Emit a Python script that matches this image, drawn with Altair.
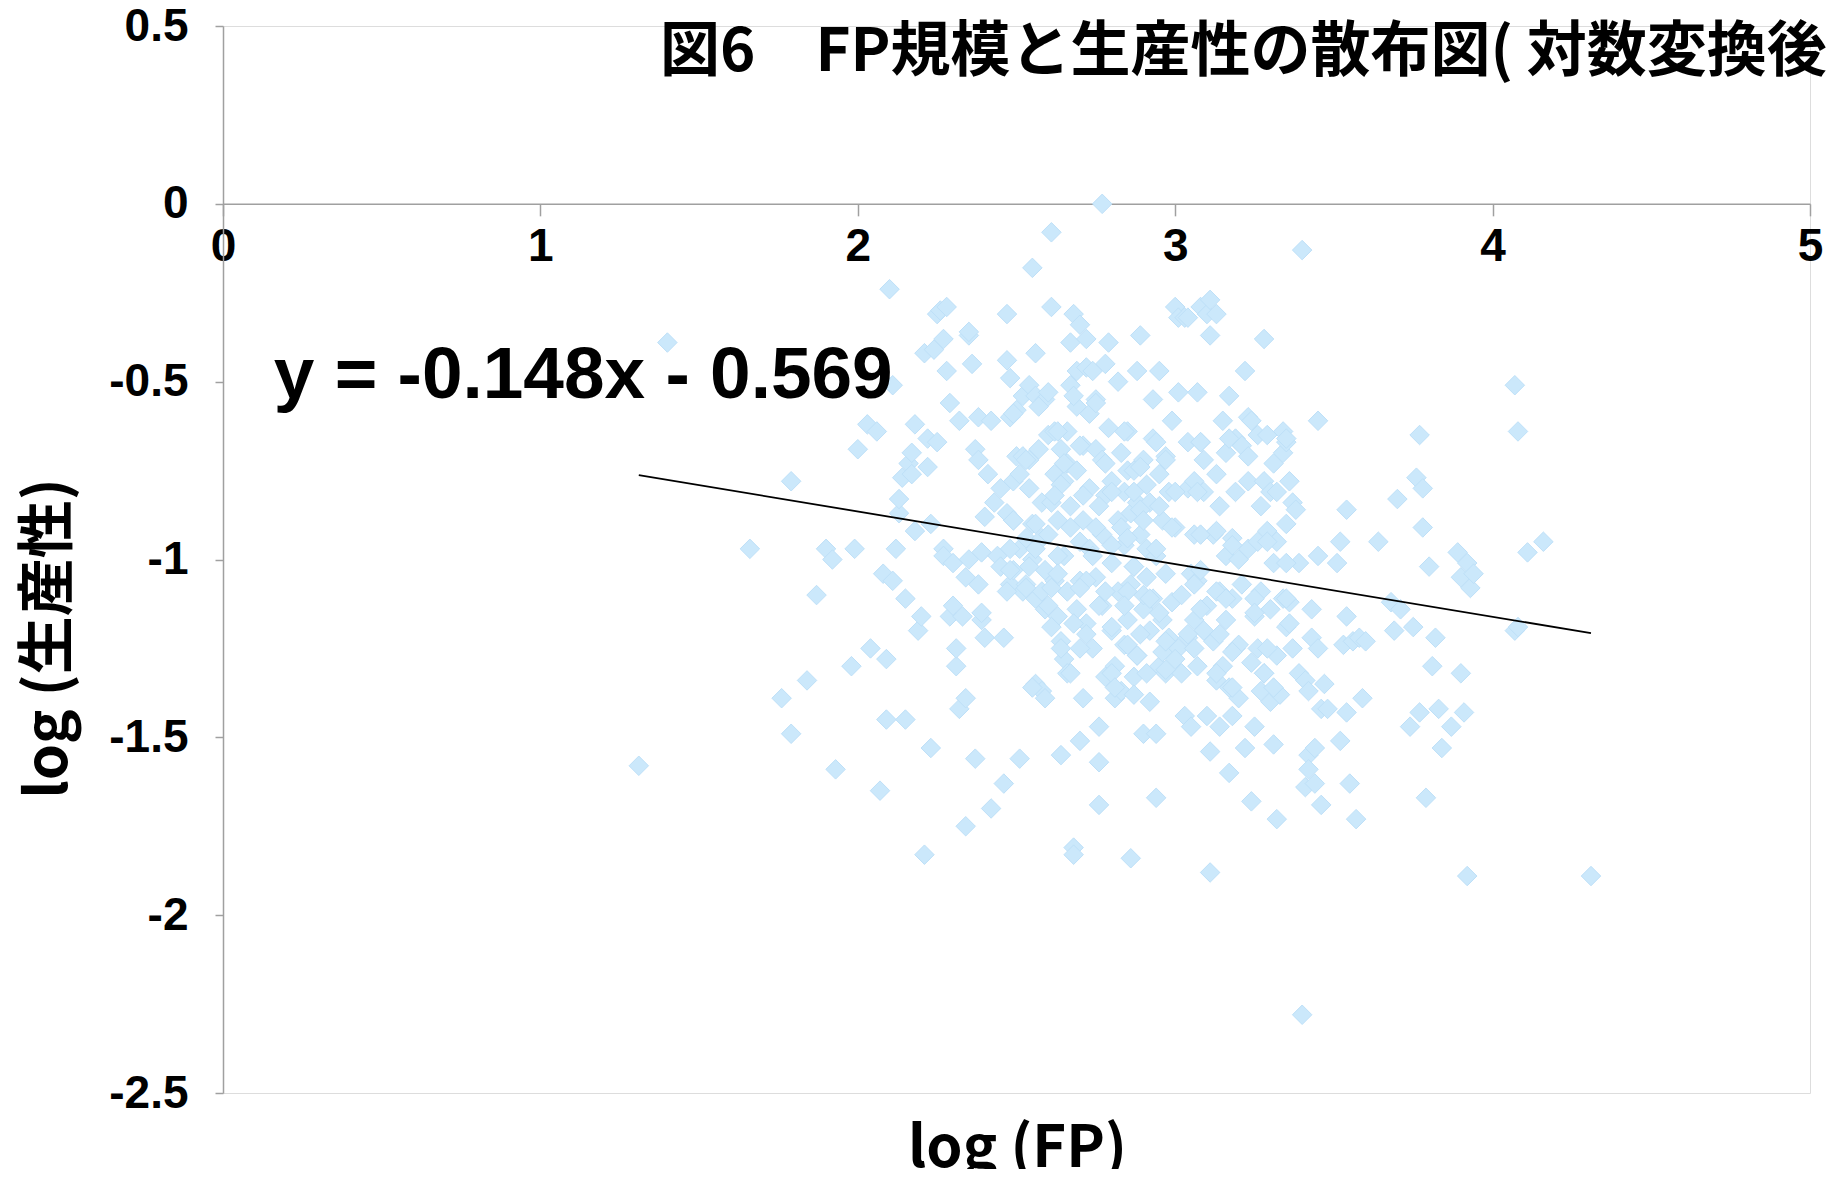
import altair as alt
import pandas as pd

# ---- data (log FP, log productivity) ----
fp_a = [1.31, 1.40, 1.66, 1.76, 1.79, 1.79, 1.84, 1.87, 1.90, 1.92, 1.93, 1.98, 1.99]
pr_a = [-1.58, -0.39, -0.97, -1.39, -0.78, -1.49, -1.34, -1.10, -0.97, -1.00, -1.59, -1.30, -0.97]

fp_b = [2.00, 2.03, 2.06, 2.04, 2.07, 2.08, 2.09, 2.09, 2.10, 2.11,
        2.11, 2.12, 2.13, 2.13, 2.14, 2.15, 2.15, 2.16, 2.17, 2.17,
        2.18, 2.18, 2.19, 2.20, 2.21, 2.21, 2.22, 2.22, 2.23, 2.23]
pr_b = [-0.69, -0.62, -0.64, -1.25, -1.65, -1.04, -1.28, -1.45, -0.24, -0.51,
        -1.06, -0.97, -0.87, -0.83, -0.77, -1.45, -1.11, -0.73, -0.70, -0.76,
        -0.62, -0.92, -1.20, -1.16, -1.83, -0.42, -0.74, -0.66, -1.53, -0.90]

fp_c = [2.24, 2.25, 2.25, 2.26, 2.27, 2.28, 2.28, 2.27, 2.27, 2.29,
        2.29, 2.30, 2.30, 2.31, 2.31, 2.32, 2.32, 2.33, 2.34, 2.34,
        2.34, 2.35, 2.35, 2.35, 2.36, 2.37, 2.37, 2.38, 2.38, 2.38,
        2.39, 2.39, 2.39, 2.40, 2.40]
pr_c = [-0.41, -0.31, -0.67, -0.30, -0.38, -0.47, -0.29, -0.97, -0.99, -0.56,
        -1.16, -1.13, -1.01, -1.30, -1.25, -0.61, -1.42, -1.16, -1.75, -1.39,
        -1.05, -1.00, -0.37, -0.36, -0.45, -0.69, -1.56, -0.72, -0.60, -1.07,
        -1.17, -0.98, -1.15, -0.88, -1.22]

fp_d = [2.41, 2.42, 2.42, 2.43, 2.44, 2.45, 2.45, 2.46, 2.46, 2.47,
        2.47, 2.47, 2.48, 2.48, 2.48, 2.49, 2.49, 2.49, 2.50, 2.50,
        2.51, 2.51, 2.52, 2.52, 2.52, 2.53, 2.53, 2.54, 2.54, 2.54,
        2.55, 2.55, 2.55, 2.56, 2.56, 2.56, 2.56, 2.57, 2.58, 2.58,
        2.58, 2.58, 2.59, 2.59, 2.59, 2.59, 2.60, 2.60]
pr_d = [-0.76, -1.70, -0.61, -0.84, -0.99, -1.02, -0.80, -1.22, -1.63, -0.31,
        -0.87, -0.44, -0.49, -0.60, -1.07, -0.78, -0.89, -1.03, -0.71, -0.58,
        -0.97, -1.56, -1.09, -0.54, -0.71, -0.94, -1.07, -0.72, -0.51, -0.80,
        -0.18, -1.00, -0.90, -0.42, -1.35, -1.11, -0.54, -0.69, -1.09, -1.37,
        -0.84, -0.94, -1.03, -1.14, -0.55, -1.39, -0.65, -0.93]

fp_e = [2.61, 2.61, 2.61, 2.62, 2.62, 2.62, 2.63, 2.63, 2.64, 2.64,
        2.64, 2.65, 2.65, 2.65, 2.66, 2.66, 2.66, 2.66, 2.67, 2.67,
        2.67, 2.68, 2.68, 2.68, 2.69, 2.69, 2.69, 2.69, 2.70, 2.70,
        2.70, 2.70, 2.71, 2.71, 2.72, 2.72, 2.72, 2.73, 2.73, 2.73,
        2.74, 2.74, 2.75, 2.75, 2.75, 2.76, 2.76, 2.76, 2.77, 2.77,
        2.77, 2.77, 2.78, 2.78, 2.78, 2.79, 2.79, 2.80, 2.80, 2.80]
pr_e = [-0.08, -0.29, -0.84, -0.76, -1.06, -0.64, -1.16, -0.89, -0.69, -1.23,
        -1.55, -0.99, -0.78, -1.28, -1.09, -0.64, -0.73, -1.32, -0.51, -0.39,
        -0.85, -0.31, -1.81, -1.83, -0.57, -1.14, -0.75, -0.47, -0.34, -1.51,
        -1.06, -0.95, -0.68, -0.89, -0.46, -1.18, -0.38, -0.59, -0.97, -0.80,
        -1.25, -0.47, -0.69, -1.05, -0.55, -1.47, -1.69, -1.57, -1.13, -0.72,
        0.00, -0.93, -0.45, -1.33, -0.82, -0.39, -0.63, -1.01, -1.20, -0.78]

fp_f = [2.81, 2.81, 2.82, 2.82, 2.82, 2.83, 2.83, 2.84, 2.84, 2.84,
        2.85, 2.85, 2.85, 2.86, 2.86, 2.86, 2.87, 2.87, 2.87, 2.88,
        2.88, 2.88, 2.89, 2.89, 2.90, 2.90, 2.90, 2.90, 2.91, 2.91,
        2.92, 2.92, 2.92, 2.93, 2.93, 2.93, 2.94, 2.94, 2.94, 2.95,
        2.95, 2.95, 2.96, 2.96, 2.96, 2.97, 2.97, 2.97, 2.98, 2.98,
        2.99, 2.99, 3.00, 3.00]
pr_f = [-1.39, -1.30, -0.89, -1.09, -0.50, -0.70, -1.37, -0.96, -0.81, -1.24,
        -0.75, -1.17, -0.64, -1.07, -0.87, -1.84, -1.33, -0.75, -1.02, -0.84,
        -1.27, -0.47, -0.37, -0.93, -1.49, -1.14, -0.72, -1.10, -0.79, -0.97,
        -1.20, -1.40, -0.84, -0.66, -1.11, -0.55, -1.49, -1.67, -0.99, -1.30,
        -0.76, -0.47, -1.17, -0.89, -1.26, -0.71, -1.32, -1.04, -0.81, -1.22,
        -0.61, -1.12, -0.29, -0.91]

fp_g = [3.01, 3.01, 3.01, 3.02, 3.02, 3.03, 3.03, 3.04, 3.04, 3.04,
        3.04, 3.05, 3.05, 3.06, 3.06, 3.06, 3.07, 3.07, 3.07, 3.08,
        3.08, 3.09, 3.09, 3.09, 3.10, 3.10, 3.10, 3.11, 3.11, 3.11,
        3.11, 3.12, 3.12, 3.13, 3.13, 3.13, 3.14, 3.14, 3.14, 3.15,
        3.15, 3.16, 3.16, 3.16, 3.17, 3.17, 3.17, 3.18, 3.18, 3.18,
        3.19, 3.19, 3.19, 3.20]
pr_g = [-0.32, -1.25, -0.53, -1.32, -1.10, -0.32, -1.44, -0.80, -1.22, -0.67,
        -0.32, -1.47, -1.04, -1.17, -0.78, -0.93, -0.53, -1.30, -1.06, -0.67,
        -0.29, -1.20, -0.81, -0.72, -1.44, -0.31, -1.13, -1.54, -1.88, -0.27,
        -0.37, -0.93, -1.23, -0.31, -1.34, -0.76, -1.09, -1.47, -0.85, -0.61,
        -1.30, -0.99, -1.17, -0.70, -1.36, -1.60, -0.54, -1.11, -1.44, -0.94,
        -0.66, -1.25, -0.81, -1.39]

fp_h = [3.21, 3.21, 3.22, 3.22, 3.23, 3.23, 3.23, 3.24, 3.24, 3.24,
        3.25, 3.25, 3.26, 3.26, 3.26, 3.27, 3.27, 3.27, 3.28, 3.28,
        3.28, 3.29, 3.29, 3.30, 3.30, 3.30, 3.31, 3.31, 3.31, 3.32,
        3.32, 3.32, 3.33, 3.34, 3.34, 3.34, 3.35, 3.35, 3.35, 3.36,
        3.36, 3.37, 3.37, 3.38, 3.39, 3.39, 3.40]
pr_h = [-0.68, -1.07, -0.47, -1.53, -0.60, -0.97, -0.78, -1.29, -0.61, -1.68,
        -1.16, -1.47, -0.95, -0.65, -1.25, -0.85, -1.37, -1.09, -0.38, -1.32,
        -0.78, -0.92, -0.65, -1.40, -1.14, -0.81, -1.01, -0.73, -1.52, -1.27,
        -0.95, -1.73, -1.38, -0.64, -1.11, -0.70, -0.67, -1.19, -0.90, -0.78,
        -1.12, -0.84, -1.25, -0.86, -1.01, -1.32, -0.13]

fp_i = [3.40, 3.41, 3.41, 3.42, 3.42, 3.42, 3.43, 3.43, 3.44, 3.44,
        3.45, 3.45, 3.45, 3.46, 3.46, 3.47, 3.48, 3.51, 3.52, 3.52,
        3.53, 3.54, 3.54, 3.54, 3.55, 3.56, 3.57, 3.58, 3.59, 3.60]
pr_i = [-2.28, -1.34, -1.64, -1.55, -1.59, -1.37, -1.14, -1.22, -1.63, -1.53,
        -0.61, -0.99, -1.25, -1.69, -1.42, -1.35, -1.42, -1.01, -1.51, -0.95,
        -1.24, -1.16, -0.86, -1.43, -1.63, -1.23, -1.73, -1.22, -1.39, -1.23]

fp_j = [3.64, 3.68, 3.69, 3.70, 3.71, 3.74, 3.75, 3.76, 3.77, 3.77,
        3.78, 3.78, 3.79, 3.80, 3.81, 3.82, 3.83, 3.84, 3.87, 3.89,
        3.90, 3.90, 3.91, 3.92, 3.92, 3.93, 3.94, 4.07, 4.07, 4.08,
        4.08, 4.11, 4.16, 4.31]
pr_j = [-0.95, -1.12, -1.20, -0.83, -1.14, -1.47, -1.19, -0.77, -0.65, -1.43,
        -0.91, -0.80, -1.67, -1.02, -1.30, -1.22, -1.42, -1.53, -1.47, -0.98,
        -1.32, -1.05, -1.43, -1.89, -1.01, -1.08, -1.04, -0.51, -1.20, -0.64,
        -1.19, -0.98, -0.95, -1.89]

# dense core (read from a close-up of the central cluster)
fp_k = [2.49, 2.57, 2.60, 2.68, 2.75, 2.63, 2.70, 2.84, 2.94, 3.08,
        3.17, 3.23, 3.35, 2.53, 2.65, 2.78, 2.89, 2.97, 2.51, 2.64,
        2.80, 2.87, 3.00, 3.07, 3.32, 2.62, 2.71, 2.76, 2.89, 2.95,
        2.49, 2.56, 2.67, 2.75, 2.83, 2.90, 2.99, 3.08, 3.13, 3.18,
        3.29, 3.35, 2.48, 2.56, 2.63, 2.74, 2.80, 2.85, 2.94, 3.08,
        3.20, 2.48, 2.54, 2.63, 2.72, 2.87, 2.91]
pr_k = [-0.59, -0.57, -0.53, -0.54, -0.56, -0.64, -0.68, -0.64, -0.67, -0.67,
        -0.66, -0.71, -0.66, -0.72, -0.73, -0.73, -0.74, -0.72, -0.76, -0.79,
        -0.81, -0.81, -0.81, -0.81, -0.81, -0.82, -0.82, -0.85, -0.86, -0.85,
        -0.89, -0.90, -0.91, -0.91, -0.91, -0.89, -0.91, -0.93, -0.92, -0.96,
        -0.95, -1.01, -0.97, -0.97, -0.99, -0.99, -0.96, -0.94, -0.97, -1.03,
        -1.00, -1.03, -1.02, -1.04, -1.06, -1.02, -1.05]

fp_l = [2.47, 2.53, 2.61, 2.70, 2.78, 2.85, 2.92, 3.06, 3.13, 3.16,
        3.25, 3.35, 2.60, 2.76, 2.84, 2.95, 3.08, 3.25, 3.36, 2.61,
        2.68, 2.72, 2.80, 2.89, 2.97, 3.04, 3.14, 3.20, 2.85, 2.64,
        2.70, 2.88, 3.00, 3.06, 3.18, 3.29, 2.67, 2.80, 2.91, 2.97,
        3.13, 3.28, 2.55, 2.71, 2.81, 2.87, 3.18, 3.31]
pr_l = [-1.09, -1.08, -1.08, -1.08, -1.09, -1.09, -1.11, -1.07, -1.09, -1.11,
        -1.11, -1.11, -1.13, -1.13, -1.13, -1.15, -1.14, -1.15, -1.18, -1.19,
        -1.18, -1.21, -1.19, -1.21, -1.23, -1.21, -1.21, -1.24, -1.24, -1.25,
        -1.25, -1.27, -1.28, -1.25, -1.26, -1.25, -1.32, -1.32, -1.32, -1.31,
        -1.32, -1.32, -1.36, -1.39, -1.36, -1.38, -1.36, -1.36]

log_fp = fp_a + fp_b + fp_c + fp_d + fp_e + fp_f + fp_g + fp_h + fp_i + fp_j + fp_k + fp_l
log_prod = pr_a + pr_b + pr_c + pr_d + pr_e + pr_f + pr_g + pr_h + pr_i + pr_j + pr_k + pr_l

# linear trend shown in the reference
trend_slope = -0.148
trend_intercept = -0.569

x_ticks = [0, 1, 2, 3, 4, 5]
y_ticks = [-2.5, -2.0, -1.5, -1.0, -0.5, 0.0, 0.5]

title_text = "図6　FP規模と生産性の散布図( 対数変換後)"
x_title = "log (FP)"
y_title = "log (生産性)"
eq_anchor = [0.16, -0.546]

# ---- frames ----
pts = pd.DataFrame({"fp": log_fp, "prod": log_prod})
x_ends = [min(log_fp), max(log_fp)]
trend = pd.DataFrame({"fp": x_ends,
                      "prod": [trend_slope * v + trend_intercept for v in x_ends]})
eq_label = f"y = {trend_slope}x - {abs(trend_intercept)}"
eq = pd.DataFrame({"fp": [eq_anchor[0]], "prod": [eq_anchor[1]], "label": [eq_label]})
ttl = pd.DataFrame({"label": [title_text]})

W, H = 1587, 1067
y_zero_px = H * (0.5 / 3.0)

xs = alt.Scale(domain=[0, 5], nice=False, zero=False)
ys = alt.Scale(domain=[-2.5, 0.5], nice=False, zero=False)

AX = "#A0A0A0"
x_axis = alt.Axis(values=x_ticks, format="d", orient="bottom",
                  offset=-(H - y_zero_px), grid=False, labelFlush=False,
                  domainColor=AX, tickColor=AX, domainWidth=1.5, tickWidth=1.5,
                  tickSize=12, labelPadding=9, labelFont="Liberation Sans",
                  labelFontSize=46, labelFontWeight="bold", labelColor="black",
                  title=x_title, titleFont="Noto Sans CJK JP", titleFontSize=58,
                  titleFontWeight="bold", titleColor="black",
                  titleX=794, titleY=H - y_zero_px + 73, titleAlign="center",
                  titleBaseline="alphabetic", titleAngle=0)
y_axis = alt.Axis(values=y_ticks, labelExpr="toString(datum.value)", orient="left",
                  grid=False, domainColor=AX, tickColor=AX, domainWidth=1.5,
                  tickWidth=1.5, tickSize=8, labelPadding=27,
                  labelFont="Liberation Sans", labelFontSize=46,
                  labelFontWeight="bold", labelColor="black", labelBaseline="middle",
                  title=y_title, titleFont="Noto Sans CJK JP", titleFontSize=58,
                  titleFontWeight="bold", titleColor="black",
                  titleX=-174, titleY=612, titleAngle=270, titleAlign="center",
                  titleBaseline="middle")

points = alt.Chart(pts).mark_point(
    shape="diamond", filled=True, size=380, fill="#CBE8FB", opacity=1,
    stroke="#BEE0F8", strokeWidth=1
).encode(
    x=alt.X("fp:Q", scale=xs, axis=x_axis),
    y=alt.Y("prod:Q", scale=ys, axis=y_axis),
)

line = alt.Chart(trend).mark_line(color="black", strokeWidth=1.8).encode(
    x=alt.X("fp:Q", scale=xs), y=alt.Y("prod:Q", scale=ys))

eq_text = alt.Chart(eq).mark_text(
    align="left", baseline="alphabetic", font="Liberation Sans",
    fontSize=73, fontWeight="bold", color="black"
).encode(x=alt.X("fp:Q", scale=xs), y=alt.Y("prod:Q", scale=ys), text="label:N")

title_mark = alt.Chart(ttl).mark_text(
    align="left", baseline="alphabetic", font="Noto Sans CJK JP",
    fontSize=60, fontWeight="bold", color="black"
).encode(x=alt.value(437), y=alt.value(45), text="label:N")

chart = alt.layer(points, line, eq_text, title_mark).properties(
    width=W, height=H,
    autosize=alt.AutoSizeParams(type="none"),
    padding={"left": 215, "top": 18, "right": 19, "bottom": 76},
).configure_view(stroke=None).configure(background="white")

chart.save("out.html", embed_options={"renderer": "svg", "actions": False})
